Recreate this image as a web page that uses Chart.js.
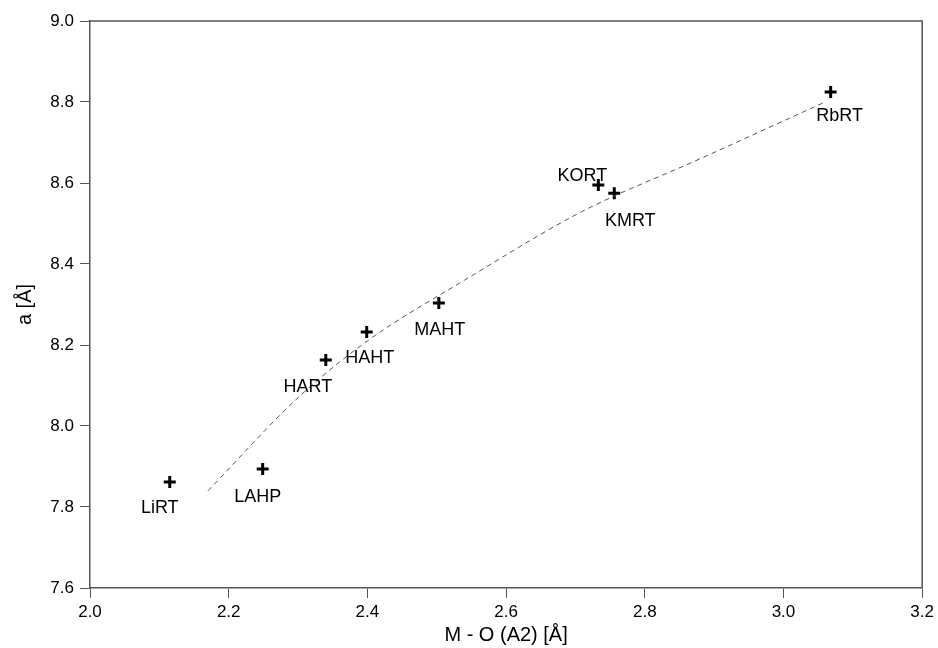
<!DOCTYPE html>
<html>
<head>
<meta charset="utf-8">
<script src="https://cdn.jsdelivr.net/npm/chart.js@4/dist/chart.umd.min.js"></script>
<style>
  html, body { margin: 0; padding: 0; background: #fff; }
  #wrap { width: 938px; height: 648px; }
</style>
</head>
<body>
<div id="wrap"><canvas id="c"></canvas></div>
<script>
// measured points
const names = ['LiRT', 'LAHP', 'HART', 'HAHT', 'MAHT', 'KORT', 'KMRT', 'RbRT'];
const moDist = [2.115, 2.249, 2.340, 2.399, 2.503, 2.733, 2.756, 3.068];
const latticeA = [7.862, 7.894, 8.163, 8.232, 8.304, 8.595, 8.575, 8.825];

// dashed trend curve
const fitX = [2.17, 2.30, 2.40, 2.54, 2.71, 2.88, 3.06];
const fitY = [7.84, 8.07, 8.21, 8.36, 8.53, 8.66, 8.80];

// label offsets from the point (px)
const labelOffsets = [[-10, 26], [-5, 28], [-18, 27], [3, 26], [1, 27], [-16, -9], [16, 28], [9, 24]];

const pointLabels = {
  id: 'pointLabels',
  afterDatasetsDraw(chart) {
    const ctx = chart.ctx;
    const meta = chart.getDatasetMeta(1);
    ctx.save();
    ctx.font = '18px "Liberation Sans", Arial, sans-serif';
    ctx.fillStyle = '#000';
    ctx.textAlign = 'center';
    ctx.textBaseline = 'middle';
    meta.data.forEach((pt, i) => {
      ctx.fillText(names[i], pt.x + labelOffsets[i][0], pt.y + labelOffsets[i][1]);
    });
    ctx.restore();
  }
};

const frame = {
  id: 'frame',
  beforeDatasetsDraw(chart) {
    const { ctx, chartArea: a } = chart;
    ctx.save();
    ctx.strokeStyle = '#555';
    ctx.lineWidth = 1.5;
    ctx.beginPath();
    ctx.moveTo(a.left, a.top);
    ctx.lineTo(a.right, a.top);
    ctx.lineTo(a.right, a.bottom);
    ctx.stroke();
    ctx.restore();
  }
};

new Chart(document.getElementById('c'), {
  type: 'scatter',
  data: {
    datasets: [
      {
        type: 'line',
        data: fitX.map((x, i) => ({ x: x, y: fitY[i] })),
        borderColor: '#555',
        borderWidth: 1,
        borderDash: [5, 4],
        pointRadius: 0,
        tension: 0.4,
        cubicInterpolationMode: 'monotone',
        fill: false
      },
      {
        data: moDist.map((x, i) => ({ x: x, y: latticeA[i] })),
        pointStyle: 'cross',
        pointRadius: 6,
        borderWidth: 3,
        borderColor: '#000',
        backgroundColor: '#000'
      }
    ]
  },
  options: {
    responsive: true,
    maintainAspectRatio: false,
    animation: false,
    layout: { padding: { top: 21, right: 15 } },
    plugins: { legend: { display: false }, tooltip: { enabled: false } },
    scales: {
      x: {
        type: 'linear',
        min: 2.0,
        max: 3.2,
        afterFit(s) { s.height = 60; },
        ticks: {
          stepSize: 0.2,
          color: '#000',
          padding: 4,
          font: { family: '"Liberation Sans", Arial, sans-serif', size: 17 },
          callback: v => v.toFixed(1)
        },
        grid: { drawOnChartArea: false, drawTicks: true, tickLength: 10, color: '#555', lineWidth: 1 },
        border: { display: true, color: '#555', width: 1.5 },
        title: {
          display: true,
          text: 'M - O (A2) [Å]',
          color: '#000',
          padding: { top: 0, bottom: 1 },
          font: { family: '"Liberation Sans", Arial, sans-serif', size: 20 }
        }
      },
      y: {
        min: 7.6,
        max: 9.0,
        afterFit(s) { s.width = 90; },
        ticks: {
          stepSize: 0.2,
          color: '#000',
          padding: 6,
          font: { family: '"Liberation Sans", Arial, sans-serif', size: 17 },
          callback: v => v.toFixed(1)
        },
        grid: { drawOnChartArea: false, drawTicks: true, tickLength: 10, color: '#555', lineWidth: 1 },
        border: { display: true, color: '#555', width: 1.5 },
        title: {
          display: true,
          text: 'a [Å]',
          color: '#000',
          padding: { top: 13, bottom: 0 },
          font: { family: '"Liberation Sans", Arial, sans-serif', size: 20 }
        }
      }
    }
  },
  plugins: [frame, pointLabels]
});
</script>
</body>
</html>
